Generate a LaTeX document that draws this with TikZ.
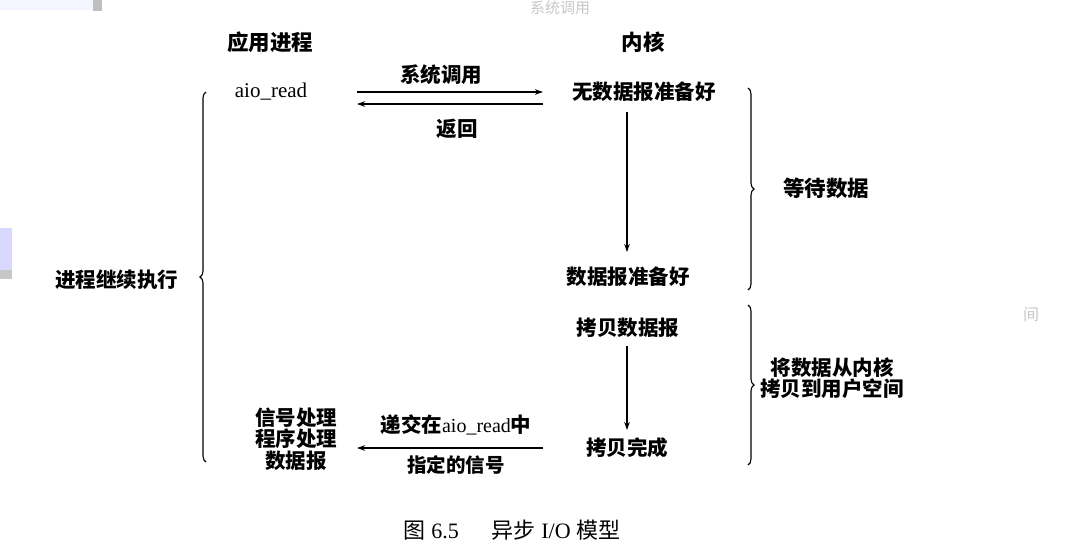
\documentclass[tikz,border=0pt]{standalone}
\usepackage{fontspec}
\setmainfont{Liberation Serif}
\newfontfamily\cjk{Noto Sans CJK SC}
\usetikzlibrary{arrows.meta,decorations.pathreplacing}
\tikzset{
  lbl/.style={font=\cjk\bfseries\fontsize{20.5}{23}\selectfont, inner sep=1pt, align=center},
  head/.style={font=\cjk\bfseries\fontsize{21.5}{24}\selectfont, inner sep=1pt},
  arr/.style={line width=1.1pt, -{Stealth[length=8pt,width=5.5pt]}},
  brc/.style={line width=1.1pt, decorate, decoration={brace, amplitude=6pt}},
  ghost/.style={font=\cjk\fontsize{15}{17}\selectfont, text=black!22, inner sep=0pt}
}
\begin{document}
\begin{tikzpicture}[x=1pt,y=-1pt]
\useasboundingbox (0,0) rectangle (1080,555);
% faint scan artifacts
\fill[blue!4] (0,0) rectangle (93,10);
\fill[black!25] (93,0) rectangle (102,11);
\fill[blue!15] (0,228) rectangle (12,270);
\fill[black!22] (0,270) rectangle (12,279);
\node[ghost] (g1) at (560,8) {系统调用};
\node[ghost, font=\cjk\fontsize{16}{18}\selectfont] (g2) at (1031,315) {间};
% headers
\node[head] (h1) at (270,42) {应用进程};
\node[head] (h2) at (643,42) {内核};
% process side
\node[font=\fontsize{21}{24}\selectfont, inner sep=1pt] (aio) at (271,92) {aio\_read};
\node[lbl] (cont) at (117,280) {进程继续执行};
\node[lbl, font=\cjk\bfseries\fontsize{20.5}{21.5}\selectfont] (sig) at (296,439) {信号处理\\程序处理\\数据报};
% kernel side
\node[lbl] (k1) at (644,92) {无数据报准备好};
\node[lbl] (k2) at (628,277) {数据报准备好};
\node[lbl] (k3) at (628,328) {拷贝数据报};
\node[lbl] (k4) at (627,448) {拷贝完成};
\node[lbl, font=\cjk\bfseries\fontsize{21.5}{24}\selectfont] (wait) at (826,188) {等待数据};
\node[lbl, font=\cjk\bfseries\fontsize{20.5}{21}\selectfont] (copy) at (832,378) {将数据从内核\\拷贝到用户空间};
% arrow labels
\node[lbl] (sc) at (441,75) {系统调用};
\node[lbl] (ret) at (457,129) {返回};
\node[lbl] (deliv) at (456,425) {递交在{\rmfamily\mdseries\fontsize{20}{23}\selectfont aio\_read}中};
\node[lbl, font=\cjk\bfseries\fontsize{19.5}{23}\selectfont] (spec) at (456,465) {指定的信号};
% coordinates for connector ends
\coordinate (a1s) at (357,92);
\coordinate (a1e) at (543,92);
\coordinate (a2s) at (543,104);
\coordinate (a2e) at (357,104);
\coordinate (a3s) at (543,448);
\coordinate (a3e) at (357,448);
\coordinate (v1s) at (627,112);
\coordinate (v1e) at (627,252);
\coordinate (v2s) at (627,346);
\coordinate (v2e) at (627,430);
% connectors
\draw[arr] (a1s) -- (a1e);
\draw[arr] (a2s) -- (a2e);
\draw[arr] (a3s) -- (a3e);
\draw[arr] (v1s) -- (v1e);
\draw[arr] (v2s) -- (v2e);
% braces
\draw[brc] (748,88) -- (748,290);
\draw[brc] (748,305) -- (748,465);
\draw[brc] (206,462) -- (206,92);
% caption
\node[inner sep=0pt, font=\fontsize{22}{25}\selectfont] (cap) at (512,530) {{\cjk 图} 6.5\hspace{1.5em}{\cjk 异步} I/O {\cjk 模型}};
\end{tikzpicture}
\end{document}
